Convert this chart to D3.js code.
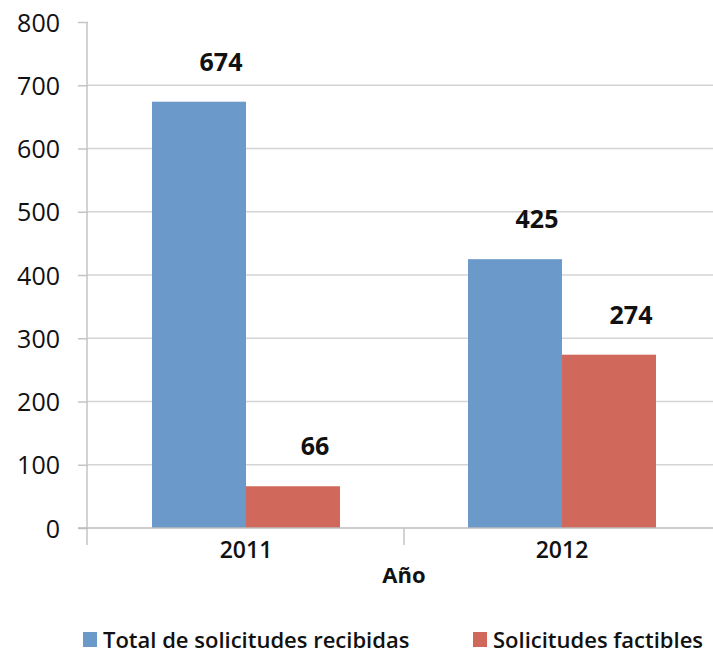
<!DOCTYPE html>
<html>
<head>
<meta charset="utf-8">
<script src="https://cdn.jsdelivr.net/npm/d3@7"></script>
<style>
  html, body { margin: 0; padding: 0; background: #fff; }
  svg { display: block; }
</style>
</head>
<body>
<svg id="chart" width="713" height="656"></svg>
<script>
// Solicitudes por año
const years = ["2011", "2012"];
const seriesNames = ["Total de solicitudes recibidas", "Solicitudes factibles"];
const totalRecibidas = [674, 425];
const factibles = [66, 274];
const yTicks = [0, 100, 200, 300, 400, 500, 600, 700, 800];
const colors = ["#6b99ca", "#d0695c"];
const xTitle = "Año";

const seriesValues = [totalRecibidas, factibles];
const rows = years.map((yr, i) => ({
  year: yr,
  values: seriesNames.map((s, j) => ({ series: s, idx: j, value: seriesValues[j][i] }))
}));

const svg = d3.select("#chart");
const plotLeft = 88, plotRight = 720, plotTop = 22, plotBottom = 528;

const y = d3.scaleLinear().domain([0, 800]).range([plotBottom, plotTop]);
const x0 = d3.scaleBand().domain(years).range([plotLeft, plotRight]).paddingInner(0).paddingOuter(0);
const x1 = d3.scaleBand().domain(seriesNames).range([0, x0.bandwidth()]).paddingInner(0).paddingOuter(0.681);

// horizontal gridlines
svg.append("g")
  .selectAll("line")
  .data(yTicks.filter(t => t > 0 && t < 800))
  .join("line")
  .attr("x1", plotLeft).attr("x2", 713)
  .attr("y1", d => y(d)).attr("y2", d => y(d))
  .attr("stroke", "#d4d4d4")
  .attr("stroke-width", 1.5);

// y axis
const yAxis = d3.axisLeft(y).tickValues(yTicks).tickSize(10).tickPadding(18);
const gy = svg.append("g").attr("transform", `translate(${plotLeft},0)`).call(yAxis);
gy.select(".domain").remove();
gy.selectAll(".tick line").attr("stroke", "#c4c4c4").attr("stroke-width", 1.5);
gy.selectAll(".tick text")
  .attr("fill", "#111")
  .style("font-family", "'Open Sans', sans-serif")
  .style("font-weight", "500")
  .style("font-size", "25px")
  .attr("dy", "0.36em");

svg.append("line")
  .attr("x1", plotLeft - 1).attr("x2", plotLeft - 1)
  .attr("y1", plotTop).attr("y2", plotBottom + 17)
  .attr("stroke", "#c4c4c4").attr("stroke-width", 1.5);

// bars
const groups = svg.append("g")
  .selectAll("g")
  .data(rows)
  .join("g")
  .attr("transform", d => `translate(${x0(d.year)},0)`);

groups.selectAll("rect")
  .data(d => d.values)
  .join("rect")
  .attr("x", d => x1(d.series))
  .attr("width", x1.bandwidth())
  .attr("y", d => y(d.value))
  .attr("height", d => y(0) - y(d.value))
  .attr("fill", d => colors[d.idx]);

// value labels
groups.selectAll("text")
  .data(d => d.values)
  .join("text")
  .attr("x", d => x1(d.series) + x1.bandwidth() / 2 + 22)
  .attr("y", d => y(d.value) - 31)
  .attr("text-anchor", "middle")
  .attr("fill", "#111")
  .style("font-family", "'Open Sans', sans-serif")
  .style("font-weight", "700")
  .style("font-size", "25px")
  .text(d => d.value);

// x axis
svg.append("line")
  .attr("x1", 78).attr("x2", 713)
  .attr("y1", plotBottom).attr("y2", plotBottom)
  .attr("stroke", "#bdbdbd").attr("stroke-width", 1.5);

const boundaries = years.map(yr => x0(yr)).concat([plotRight]);
svg.append("g")
  .selectAll("line")
  .data(boundaries.slice(1))
  .join("line")
  .attr("x1", d => d).attr("x2", d => d)
  .attr("y1", plotBottom).attr("y2", plotBottom + 17)
  .attr("stroke", "#c4c4c4").attr("stroke-width", 1.5);

svg.append("g")
  .selectAll("text")
  .data(years)
  .join("text")
  .attr("x", d => x0(d) + x0.bandwidth() / 2)
  .attr("y", 558)
  .attr("text-anchor", "middle")
  .attr("fill", "#111")
  .style("font-family", "'Open Sans', sans-serif")
  .style("font-weight", "600")
  .style("font-size", "23px")
  .text(d => d);

svg.append("text")
  .attr("x", 404)
  .attr("y", 583)
  .attr("text-anchor", "middle")
  .attr("fill", "#111")
  .style("font-family", "'Open Sans', sans-serif")
  .style("font-weight", "700")
  .style("font-size", "22px")
  .text(xTitle);

// legend
const legendX = [83, 473];
const legend = svg.append("g")
  .selectAll("g")
  .data(seriesNames)
  .join("g")
  .attr("transform", (d, i) => `translate(${legendX[i]},632)`);

legend.append("rect")
  .attr("width", 14).attr("height", 15)
  .attr("fill", (d, i) => colors[i]);

legend.append("text")
  .attr("x", 20)
  .attr("y", 16)
  .attr("fill", "#111")
  .style("font-family", "'Open Sans', sans-serif")
  .style("font-weight", "600")
  .style("font-size", "22px")
  .text(d => d);
</script>
</body>
</html>
